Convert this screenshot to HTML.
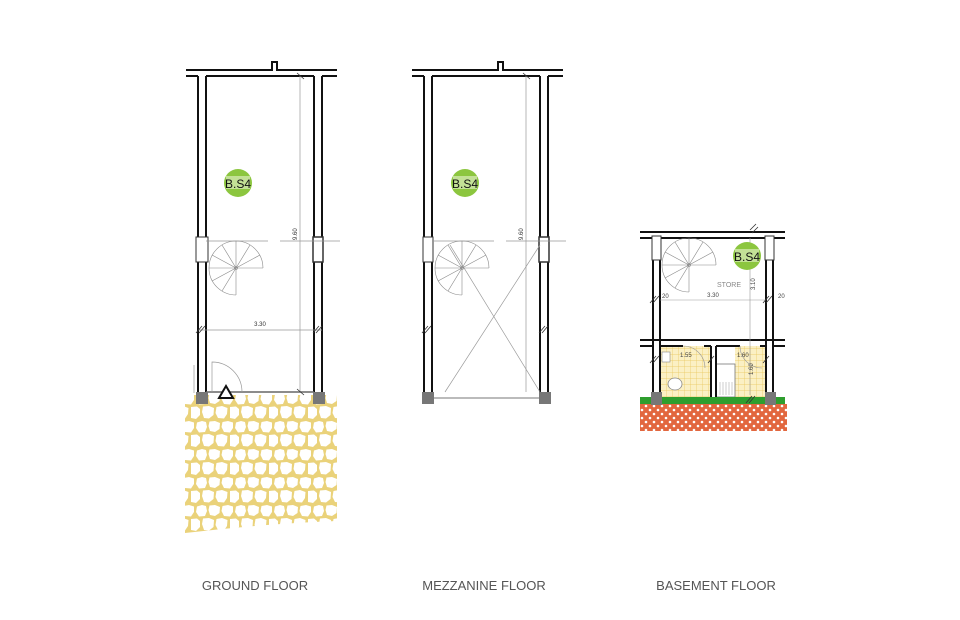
<!DOCTYPE html>
<html><head><meta charset="utf-8"><style>
html,body{margin:0;padding:0;background:#fff;width:960px;height:620px;overflow:hidden}
svg{display:block}
</style></head><body>
<svg width="960" height="620" viewBox="0 0 960 620" xmlns="http://www.w3.org/2000/svg" font-family="Liberation Sans, sans-serif">
<defs>
<pattern id="stone" width="39" height="28" patternUnits="userSpaceOnUse">
<rect width="39" height="28" fill="#ead27a"/>
<g fill="#fff">
<path d="M2,2.5 L7,1 L11,2 L12,7 L10,12 L4,12.5 L1,8Z"/>
<path d="M14.5,1.5 L20,1 L25,3 L24.5,9 L20,12 L15,11 L13.5,6Z"/>
<path d="M27.5,2 L33,1 L38,2.5 L38,8 L35,12.5 L29,12 L26.5,7Z"/>
<path d="M-4,15 L2,14.5 L5,17 L5,23 L1,27 L-4,26Z"/>
<path d="M35,15 L41,14.5 L44,17 L44,23 L40,27 L35,26Z"/>
<path d="M8,14.5 L14,14 L19,16 L18.5,23 L14,26.5 L9,26 L7,20Z"/>
<path d="M21.5,15 L27,14 L32.5,16 L32,22 L29,26.5 L23,26 L20.5,21Z"/>
</g>
</pattern>
<pattern id="tile" width="6" height="6" patternUnits="userSpaceOnUse">
<rect width="6" height="6" fill="#fbf0c4"/>
<path d="M0,0 H6 M0,0 V6" stroke="#e9c65a" stroke-width="0.7"/>
</pattern>
<pattern id="brick" width="8" height="8" patternUnits="userSpaceOnUse">
<rect width="8" height="8" fill="#e2673f"/>
<circle cx="2" cy="2" r="1.3" fill="#fff"/>
<circle cx="6" cy="6" r="1.3" fill="#fff"/>
</pattern>
</defs>

<!-- ============ GROUND FLOOR ============ -->
<path d="M185,395 H337 V521 Q260,524 185,533 Z" fill="url(#stone)"/>
<g stroke="#111" stroke-width="2" fill="none">
<path d="M186,70 H272 V62 H277 V70 H337"/>
<path d="M186,76 H198 M206,76 H314 M322,76 H337"/>
<path d="M198,76 V395 M206,76 V395 M314,76 V395 M322,76 V395"/>
</g>
<rect x="196" y="237" width="12" height="25" fill="#fff" stroke="#333" stroke-width="1"/>
<rect x="313" y="237" width="10" height="25" fill="#fff" stroke="#333" stroke-width="1.5"/>
<g stroke="#999" stroke-width="0.7" fill="none">
<line x1="206" y1="241" x2="268" y2="241"/><line x1="280" y1="241" x2="340" y2="241"/>
<line x1="300" y1="76" x2="300" y2="392"/>
<line x1="198" y1="330" x2="322" y2="330"/>
<line x1="206" y1="392" x2="314" y2="392" stroke="#666" stroke-width="1.5"/>
<path d="M212,392 V362 A30,30 0 0 1 242,392"/>
<line x1="194" y1="365" x2="194" y2="393"/>
</g>
<g stroke="#333" stroke-width="0.8" fill="none">
<line x1="297" y1="73" x2="304" y2="79"/><line x1="297" y1="389" x2="304" y2="395"/>
<line x1="196" y1="333" x2="202" y2="326"/><line x1="199" y1="333" x2="205" y2="326"/>
<line x1="313" y1="333" x2="319" y2="326"/><line x1="316" y1="333" x2="322" y2="326"/>
</g>
<g id="stair" stroke="#888" stroke-width="0.6" fill="none">
<path d="M236,295 A27,27 0 1 1 263,268" />
<circle cx="236" cy="268" r="1.5"/>
<line x1="236" y1="268" x2="236" y2="295"/><line x1="236" y1="268" x2="222" y2="291"/>
<line x1="236" y1="268" x2="212" y2="281"/><line x1="236" y1="268" x2="209" y2="268"/>
<line x1="236" y1="268" x2="212" y2="255"/><line x1="236" y1="268" x2="222" y2="245"/>
<line x1="236" y1="268" x2="236" y2="241"/><line x1="236" y1="268" x2="250" y2="245"/>
<line x1="236" y1="268" x2="260" y2="255"/><line x1="236" y1="268" x2="263" y2="268"/>
</g>
<polygon points="226,386 219,398 233,398" fill="#fff" stroke="#111" stroke-width="2"/>
<rect x="196" y="392" width="12" height="12" fill="#777"/>
<rect x="313" y="392" width="12" height="12" fill="#777"/>
<text x="260" y="326" font-size="6" text-anchor="middle" fill="#333">3.30</text>
<text x="297" y="240" font-size="6" fill="#333" transform="rotate(-90 297 240)">9.60</text>
<circle cx="238" cy="183" r="14" fill="#8cc63f"/>
<rect x="226" y="176" width="24" height="13" fill="#e8f4d0" opacity="0.6"/>
<text x="238" y="188" font-size="12" text-anchor="middle" fill="#111">B.S4</text>

<!-- ============ MEZZANINE ============ -->
<g stroke="#111" stroke-width="2" fill="none">
<path d="M412,70 H498 V62 H503 V70 H563"/>
<path d="M412,76 H424 M432,76 H540 M548,76 H563"/>
<path d="M424,76 V398 M432,76 V398 M540,76 V398 M548,76 V398"/>
</g>
<rect x="423" y="237" width="10" height="25" fill="#fff" stroke="#333" stroke-width="1"/>
<rect x="539" y="237" width="10" height="25" fill="#fff" stroke="#333" stroke-width="1.5"/>
<g stroke="#999" stroke-width="0.7" fill="none">
<line x1="432" y1="241" x2="494" y2="241"/><line x1="506" y1="241" x2="566" y2="241"/>
<line x1="526" y1="76" x2="526" y2="392"/>
<line x1="432" y1="398" x2="540" y2="398" stroke="#777" stroke-width="1"/>
<line x1="450" y1="245" x2="540" y2="392"/><line x1="540" y1="245" x2="445" y2="392"/>
</g>
<g stroke="#333" stroke-width="0.8">
<line x1="523" y1="73" x2="530" y2="79"/>
<line x1="422" y1="333" x2="428" y2="326"/><line x1="425" y1="333" x2="431" y2="326"/>
<line x1="539" y1="333" x2="545" y2="326"/><line x1="542" y1="333" x2="548" y2="326"/>
</g>
<use href="#stair" transform="translate(226,0)"/>
<rect x="422" y="392" width="12" height="12" fill="#777"/>
<rect x="539" y="392" width="12" height="12" fill="#777"/>
<text x="523" y="240" font-size="6" fill="#333" transform="rotate(-90 523 240)">9.60</text>
<circle cx="465" cy="183" r="14" fill="#8cc63f"/>
<rect x="453" y="176" width="24" height="13" fill="#e8f4d0" opacity="0.6"/>
<text x="465" y="188" font-size="12" text-anchor="middle" fill="#111">B.S4</text>

<!-- ============ BASEMENT ============ -->
<rect x="660" y="346" width="50" height="51" fill="url(#tile)"/>
<rect x="735" y="346" width="31" height="51" fill="url(#tile)"/>
<rect x="716" y="364" width="19" height="33" fill="#fff" stroke="#777" stroke-width="0.8"/>
<path d="M720,382 V395 M723,382 V395 M726,382 V395 M729,382 V395 M732,382 V395" stroke="#999" stroke-width="0.5"/>
<ellipse cx="675" cy="384" rx="7" ry="6" fill="#fff" stroke="#888" stroke-width="0.8"/>
<rect x="662" y="352" width="8" height="10" fill="#fff" stroke="#888" stroke-width="0.6"/>
<rect x="640" y="397" width="145" height="7" fill="#2e9e2e"/>
<rect x="640" y="404" width="147" height="27" fill="url(#brick)"/>
<g stroke="#111" stroke-width="2" fill="none">
<path d="M640,232 H785 M640,238 H653 M660,238 H766 M773,238 H785"/>
<path d="M653,238 V397 M660,238 V397 M766,238 V397 M773,238 V397"/>
<path d="M640,340 H785 M640,346 H653 M660,346 H683 M704,346 H711 M711,346 V397 M716,346 V397 M716,346 H740 M760,346 H766 M773,346 H785"/>
</g>
<rect x="652" y="236" width="9" height="24" fill="#fff" stroke="#333" stroke-width="1"/>
<rect x="765" y="236" width="9" height="24" fill="#fff" stroke="#333" stroke-width="1"/>
<g stroke="#999" stroke-width="0.6" fill="none">
<line x1="660" y1="300" x2="766" y2="300"/>
<line x1="750" y1="238" x2="750" y2="395"/>
<path d="M683,346 A22,22 0 0 1 705,368"/>
<path d="M740,346 A22,22 0 0 0 762,368"/>
</g>
<use href="#stair" transform="translate(453,-3)"/>
<g stroke="#333" stroke-width="0.8">
<line x1="650" y1="303" x2="656" y2="296"/><line x1="653" y1="303" x2="659" y2="296"/>
<line x1="763" y1="303" x2="769" y2="296"/><line x1="766" y1="303" x2="772" y2="296"/>
<line x1="650" y1="363" x2="656" y2="356"/><line x1="653" y1="363" x2="659" y2="356"/>
<line x1="763" y1="363" x2="769" y2="356"/><line x1="708" y1="363" x2="714" y2="356"/>
<line x1="750" y1="230" x2="756" y2="224"/><line x1="752" y1="233" x2="758" y2="227"/>
<line x1="746" y1="403" x2="752" y2="396"/><line x1="749" y1="403" x2="755" y2="396"/>
</g>
<rect x="651" y="392" width="11" height="13" fill="#777"/>
<rect x="765" y="392" width="11" height="13" fill="#777"/>
<g font-size="6" fill="#444">
<text x="713" y="297" text-anchor="middle">3.30</text>
<text x="662" y="298">20</text><text x="778" y="298">20</text>
<text x="680" y="357">1.55</text><text x="737" y="357">1.60</text>
<text x="717" y="287" font-size="7" fill="#888">STORE</text>
<text x="755" y="290" transform="rotate(-90 755 290)">3.10</text>
<text x="753" y="375" transform="rotate(-90 753 375)">1.60</text>
</g>
<circle cx="747" cy="256" r="14" fill="#8cc63f"/>
<rect x="735" y="249" width="24" height="13" fill="#e8f4d0" opacity="0.6"/>
<text x="747" y="261" font-size="12" text-anchor="middle" fill="#111">B.S4</text>

<!-- Labels -->
<g font-size="13" fill="#555" text-anchor="middle">
<text x="255" y="590">GROUND FLOOR</text>
<text x="484" y="590">MEZZANINE FLOOR</text>
<text x="716" y="590">BASEMENT FLOOR</text>
</g>
</svg>
</body></html>
